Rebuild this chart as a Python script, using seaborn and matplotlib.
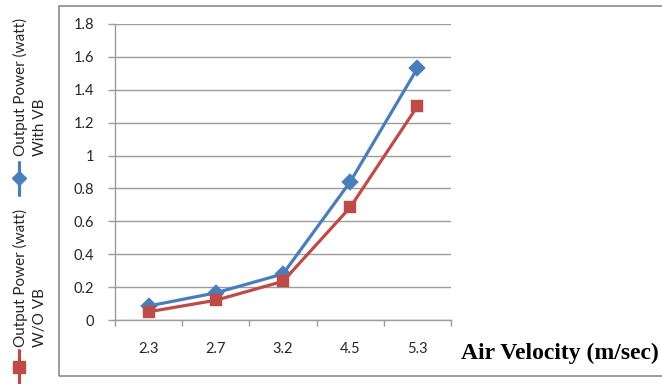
import matplotlib
matplotlib.use('Agg')
import matplotlib.pyplot as plt
import seaborn as sns
import pandas as pd
from matplotlib.lines import Line2D
from matplotlib.patches import Rectangle
from matplotlib.ticker import FixedLocator, FuncFormatter, NullFormatter

# ---- data ----
velocity = ['2.3', '2.7', '3.2', '4.5', '5.3']
power_with_vb = [0.085, 0.165, 0.28, 0.84, 1.53]
power_without_vb = [0.05, 0.12, 0.235, 0.685, 1.30]
series_names = ['Output Power (watt)\nWith VB', 'Output Power (watt)\nW/O VB']
y_ticks = [0, 0.2, 0.4, 0.6, 0.8, 1.0, 1.2, 1.4, 1.6, 1.8]
x_title = 'Air Velocity (m/sec)'

BLUE = '#4A7EBB'
RED = '#BE4B48'
GRID = '#9c9c9c'

sns.set_theme(style='white')
plt.rcParams['font.family'] = ['Lato', 'DejaVu Sans']

df = pd.DataFrame({
    'velocity': velocity * 2,
    'power': power_with_vb + power_without_vb,
    'series': [series_names[0]] * len(velocity) + [series_names[1]] * len(velocity),
})

W, H = 662, 384
fig = plt.figure(figsize=(W / 100, H / 100), dpi=100)
fig.patch.set_facecolor('white')
ax = fig.add_axes([115 / W, 1 - 320 / H, (451 - 115) / W, (320 - 24) / H])

sns.pointplot(data=df, x='velocity', y='power', hue='series',
              order=velocity, hue_order=series_names,
              palette=[BLUE, RED], markers=['D', 's'], linestyles=['-', '-'],
              errorbar=None, legend=False, ax=ax,
              markersize=7.5, linewidth=2.3)

ax.set_xlim(-0.5, len(velocity) - 0.5)
ax.set_ylim(0, 1.8)
ax.set_xlabel('')
ax.set_ylabel('')

# y axis
ax.set_yticks(y_ticks)
ax.yaxis.set_major_formatter(FuncFormatter(lambda v, p: f'{v:g}'))
ax.yaxis.grid(True, color=GRID, linewidth=1.0)
ax.xaxis.grid(False)
ax.set_axisbelow(True)
ax.tick_params(axis='y', which='major', length=5, width=1.0, color=GRID,
               direction='out', pad=10, labelsize=10.5, labelcolor='#262626', left=True)

# x axis: labels at centers, tick marks at category boundaries
ax.set_xticks(range(len(velocity)))
ax.set_xticklabels(velocity)
ax.xaxis.set_minor_locator(FixedLocator([i - 0.5 for i in range(len(velocity) + 1)]))
ax.xaxis.set_minor_formatter(NullFormatter())
ax.tick_params(axis='x', which='major', length=0, pad=16, labelsize=10.5, labelcolor='#262626')
ax.tick_params(axis='x', which='minor', length=4, width=1.0, color=GRID,
               direction='out', bottom=True)

for s in ['top', 'right']:
    ax.spines[s].set_visible(False)
for s in ['left', 'bottom']:
    ax.spines[s].set_color(GRID)
    ax.spines[s].set_linewidth(1.0)

# x title (outside chart frame, bold serif)
fig.text(461 / W, 1 - 353 / H, x_title, fontfamily='Liberation Serif',
         fontweight='bold', fontsize=17, ha='left', va='center', color='black')

# outer chart frame
fig.add_artist(Rectangle((59 / W, 1 - 376 / H), 1.0, (376 - 6) / H,
                         transform=fig.transFigure, fill=False,
                         edgecolor='#8a8a8a', linewidth=1.2, clip_on=False))

# rotated legend on the left
def legend_entry(text, color, marker, text_bottom, line_top, line_bottom, marker_y, msize):
    fig.text(30 / W, 1 - text_bottom / H, text, rotation=90, ha='center', va='bottom',
             multialignment='left', fontsize=11, color='#262626', linespacing=1.45)
    fig.add_artist(Line2D([19 / W, 19 / W], [1 - line_bottom / H, 1 - line_top / H],
                          transform=fig.transFigure, color=color, linewidth=2.3))
    fig.add_artist(Line2D([19 / W], [1 - marker_y / H], transform=fig.transFigure,
                          color=color, marker=marker, markersize=msize, linestyle='none'))

legend_entry(series_names[0], BLUE, 'D', 156, 162, 195, 178, 7)
legend_entry(series_names[1], RED, 's', 347, 350, 386, 367, 8.5)

fig.savefig('out.png', dpi=100, facecolor='white')
